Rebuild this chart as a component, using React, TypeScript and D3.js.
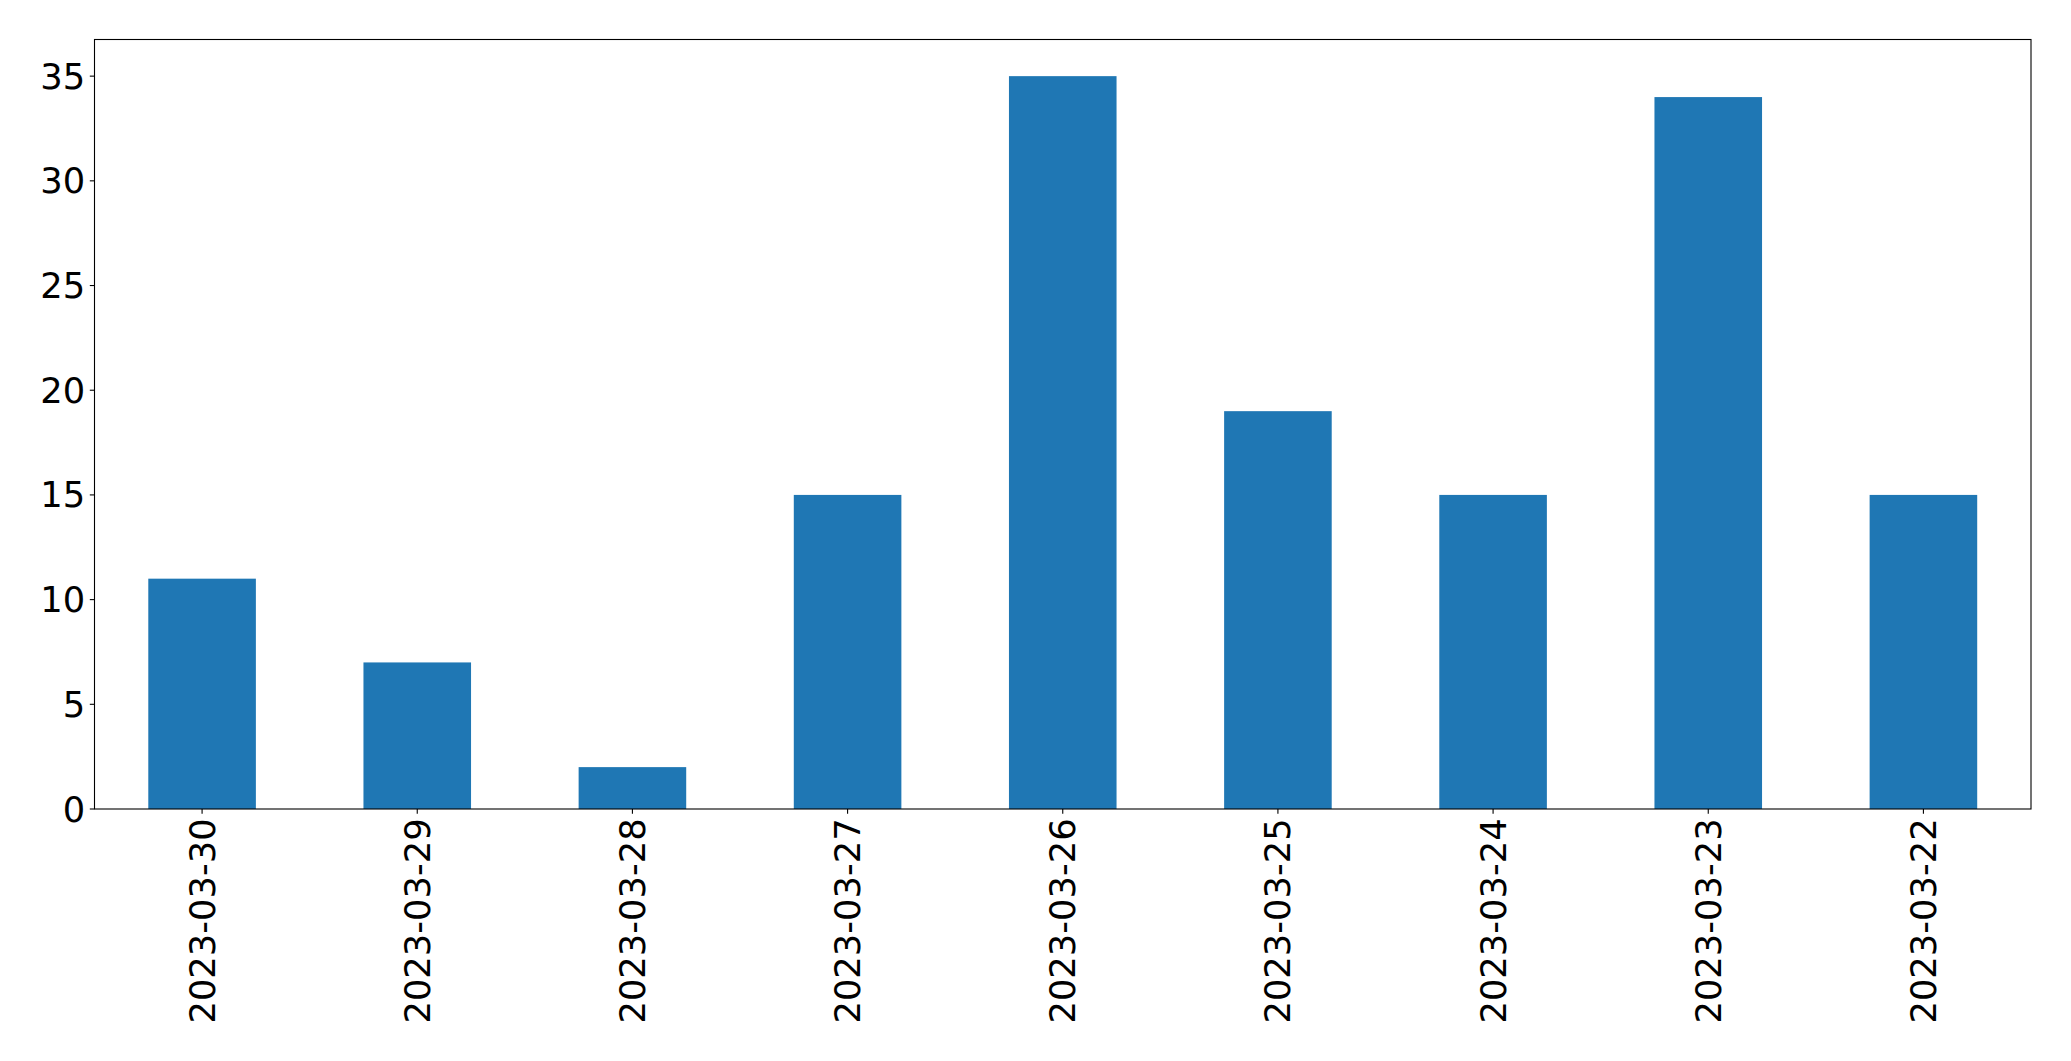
import React from "react";
import * as d3 from "d3";

const categories = ["2023-03-30", "2023-03-29", "2023-03-28", "2023-03-27", "2023-03-26", "2023-03-25", "2023-03-24", "2023-03-23", "2023-03-22"];
const values = [11, 7, 2, 15, 35, 19, 15, 34, 15];
const yTicks = [0, 5, 10, 15, 20, 25, 30, 35];

const W = 2071;
const H = 1061;
const left = 94.5;
const right = 2031;
const top = 39.5;
const bottom = 809;
const fontSize = 35.3;
const font = "DejaVu Sans";

export default function App() {
  const x = d3.scaleLinear().domain([-0.5, categories.length - 0.5]).range([left, right]);
  const y = d3.scaleLinear().domain([0, 36.75]).range([bottom, top]);
  const barW = x(0.25) - x(-0.25);
  return (
    <svg width={W} height={H} style={{ position: "absolute", left: 0, top: 0, background: "#fff" }} fontFamily={font}>
      {values.map((v, i) => (
        <rect key={i} x={x(i) - barW / 2} y={y(v)} width={barW} height={y(0) - y(v)} fill="#1f77b4" />
      ))}
      <rect x={left} y={top} width={right - left} height={bottom - top} fill="none" stroke="#000" strokeWidth={1.1} />
      {yTicks.map((t) => (
        <g key={t}>
          <line x1={left - 4.7} x2={left} y1={y(t)} y2={y(t)} stroke="#000" strokeWidth={1.1} />
          <text x={left - 4.7 - 4.7} y={y(t)} textAnchor="end" dominantBaseline="central" fontSize={fontSize}>{t}</text>
        </g>
      ))}
      {categories.map((c, i) => (
        <g key={c}>
          <line x1={x(i)} x2={x(i)} y1={bottom} y2={bottom + 4.7} stroke="#000" strokeWidth={1.1} />
          <text transform={`translate(${x(i)},${bottom + 4.7 + 4.7}) rotate(-90)`} textAnchor="end" dominantBaseline="central" fontSize={fontSize}>{c}</text>
        </g>
      ))}
    </svg>
  );
}
